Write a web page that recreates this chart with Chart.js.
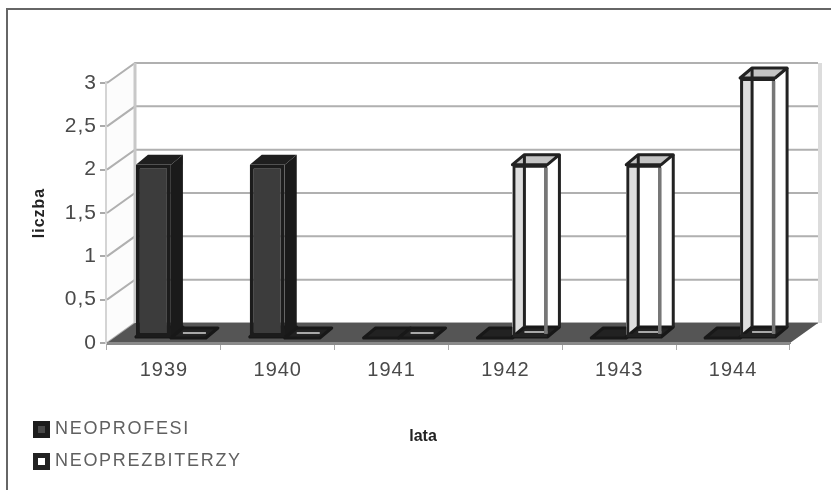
<!DOCTYPE html>
<html>
<head>
<meta charset="utf-8">
<title>Neoprofesi i neoprezbiterzy</title>
<script src="https://cdn.jsdelivr.net/npm/chart.js@4"></script>
<style>
    html, body { margin: 0; padding: 0; background: #fff; }
    #wrap { position: relative; width: 831px; height: 490px; overflow: hidden; }
    #chart { display: block; filter: blur(0.7px); }
    /* the frame runs off the right and bottom edge of the scan */
    #frame { position: absolute; left: 6px; top: 8px; width: 840px; height: 500px; border: 2px solid #666; }
</style>
</head>
<body>
<div id="wrap">
    <canvas id="chart" width="831" height="490"></canvas>
    <div id="frame"></div>
</div>
<script>
const categories = ['1939', '1940', '1941', '1942', '1943', '1944'];
const neoprofesi = [2, 2, 0, 0, 0, 0];
const neoprezbiterzy = [0, 0, 0, 2, 2, 3];
const yTickLabels = ['0', '0,5', '1', '1,5', '2', '2,5', '3'];
const yAxisTitle = 'liczba';
const xAxisTitle = 'lata';

// 3D look: how far the walls and the bars go back
const WALL_DX = 28, WALL_DY = -20;
const BAR_DX = 12, BAR_DY = -10;
const BAR_SHIFT_X = 7, BAR_SHIFT_Y = -5;

function poly(ctx, pts) {
    ctx.beginPath();
    pts.forEach((p, i) => i ? ctx.lineTo(p[0], p[1]) : ctx.moveTo(p[0], p[1]));
    ctx.closePath();
}

function drawWalls(chart) {
    const { ctx, chartArea: a, scales: { y } } = chart;
    ctx.save();
    ctx.fillStyle = '#fcfcfc';
    poly(ctx, [[a.left, a.top], [a.left + WALL_DX, a.top + WALL_DY], [a.left + WALL_DX, a.bottom + WALL_DY], [a.left, a.bottom]]);
    ctx.fill();

    // gridlines go along the side wall and then the back wall
    ctx.strokeStyle = '#b0b0b0';
    ctx.lineWidth = 2;
    y.ticks.forEach(t => {
        const py = y.getPixelForValue(t.value);
        ctx.beginPath();
        ctx.moveTo(a.left, py);
        ctx.lineTo(a.left + WALL_DX, py + WALL_DY);
        ctx.lineTo(a.right + WALL_DX, py + WALL_DY);
        ctx.stroke();
    });
    ctx.strokeStyle = '#c8c8c8';
    ctx.lineWidth = 3;
    ctx.beginPath();
    ctx.moveTo(a.left + WALL_DX, a.top + WALL_DY);
    ctx.lineTo(a.left + WALL_DX, a.bottom + WALL_DY);
    ctx.stroke();
    ctx.strokeStyle = '#dcdcdc';
    ctx.lineWidth = 4;
    ctx.beginPath();
    ctx.moveTo(a.right + WALL_DX + 2, a.top + WALL_DY);
    ctx.lineTo(a.right + WALL_DX + 2, a.bottom + WALL_DY);
    ctx.stroke();

    // floor
    ctx.fillStyle = '#555';
    poly(ctx, [[a.left, a.bottom], [a.left + WALL_DX, a.bottom + WALL_DY], [a.right + WALL_DX, a.bottom + WALL_DY], [a.right, a.bottom]]);
    ctx.fill();
    ctx.fillStyle = '#8a8a8a';
    ctx.fillRect(a.left, a.bottom - 1, a.width, 3);
    ctx.restore();
}

function drawFlat(ctx, x0, x1, yb, light) {
    const pts = [[x0, yb], [x1, yb], [x1 + BAR_DX, yb + BAR_DY], [x0 + BAR_DX, yb + BAR_DY]];
    ctx.fillStyle = '#222';
    ctx.strokeStyle = '#181818';
    ctx.lineWidth = 3;
    ctx.lineJoin = 'round';
    poly(ctx, pts);
    ctx.fill();
    ctx.stroke();
    if (light) {
        ctx.strokeStyle = '#a8a8a8';
        ctx.lineWidth = 2;
        ctx.beginPath();
        ctx.moveTo(x0 + BAR_DX, yb + BAR_DY / 2);
        ctx.lineTo(x1, yb + BAR_DY / 2);
        ctx.stroke();
    }
}

function drawBarDepth(ctx, bar, open) {
    const x0 = bar.x - bar.width / 2, x1 = bar.x + bar.width / 2;
    const yt = bar.y, yb = bar.base;
    const h = yb - yt;
    if (h < 1) {
        drawFlat(ctx, x0, x1, yb, open);
        return;
    }

    if (!open) {
        drawFlat(ctx, x0, x1, yb, false);
        ctx.fillStyle = '#1a1a1a';
        poly(ctx, [[x1, yt], [x1 + BAR_DX, yt + BAR_DY], [x1 + BAR_DX, yb + BAR_DY], [x1, yb]]);
        ctx.fill();
        ctx.fillStyle = '#1f1f1f';
        poly(ctx, [[x0, yt], [x0 + BAR_DX, yt + BAR_DY], [x1 + BAR_DX, yt + BAR_DY], [x1, yt]]);
        ctx.fill();
        return;
    }
    ctx.fillStyle = '#fff';
    ctx.fillRect(x0, yt + BAR_DY, x1 - x0 + BAR_DX, h);
    ctx.fillStyle = '#dedede';
    ctx.fillRect(x0, yt, BAR_DX, h);
    drawFlat(ctx, x0, x1, yb, true);
    ctx.fillStyle = '#c4c4c4';
    poly(ctx, [[x0, yt], [x0 + BAR_DX, yt + BAR_DY], [x1 + BAR_DX, yt + BAR_DY], [x1, yt]]);
    ctx.fill();
    ctx.strokeStyle = '#222';
    ctx.lineWidth = 3;
    ctx.lineJoin = 'round';
    ctx.stroke();
    ctx.beginPath();
    ctx.moveTo(x0 + BAR_DX, yt + BAR_DY);
    ctx.lineTo(x0 + BAR_DX, yb + BAR_DY);
    ctx.moveTo(x1 + BAR_DX, yt + BAR_DY);
    ctx.lineTo(x1 + BAR_DX, yb + BAR_DY);
    ctx.stroke();
}

const fake3d = {
    id: 'fake3d',
    beforeDraw(chart) {
        chart.ctx.letterSpacing = '1px';
    },
    beforeDatasetsDraw(chart) {
        const ctx = chart.ctx;
        drawWalls(chart);
        ctx.save();
        ctx.translate(BAR_SHIFT_X, BAR_SHIFT_Y);
        chart.data.datasets.forEach((ds, i) => {
            chart.getDatasetMeta(i).data.forEach(bar => drawBarDepth(ctx, bar, i === 1));
        });
    },
    afterDatasetsDraw(chart) {
        const ctx = chart.ctx;
        // right front edge of the open bars looks grey
        chart.getDatasetMeta(1).data.forEach(bar => {
            if (bar.base - bar.y < 1) return;
            const x1 = bar.x + bar.width / 2;
            ctx.strokeStyle = '#777';
            ctx.lineWidth = 3.5;
            ctx.beginPath();
            ctx.moveTo(x1 - 1.5, bar.y + 3);
            ctx.lineTo(x1 - 1.5, bar.base - 3);
            ctx.stroke();
        });
        ctx.restore();
    },
    afterDraw(chart) {
        const ctx = chart.ctx;
        ctx.save();
        ctx.textBaseline = 'middle';
        ctx.fillStyle = '#222';
        ctx.font = 'bold 16px "Liberation Sans"';
        ctx.letterSpacing = '0px';
        ctx.textAlign = 'center';
        ctx.fillText(xAxisTitle, 423, 437);

        // legend under the chart, stacked
        ctx.textAlign = 'left';
        chart.data.datasets.forEach((ds, i) => {
            const top = 421 + i * 32;
            ctx.fillStyle = ds.borderColor;
            ctx.fillRect(33, top, 17, 17);
            ctx.fillStyle = i === 0 ? '#484848' : '#fff';
            ctx.fillRect(38, top + 5, 7, 7);
            ctx.fillStyle = '#606060';
            ctx.font = '18px "Liberation Sans"';
            ctx.letterSpacing = '1.7px';
            ctx.fillText(ds.label, 55, top + 8);
        });
        ctx.restore();
    }
};

new Chart(document.getElementById('chart'), {
    type: 'bar',
    data: {
        labels: categories,
        datasets: [
            {
                label: 'NEOPROFESI',
                data: neoprofesi,
                backgroundColor: '#3c3c3c',
                borderColor: '#1c1c1c',
                borderWidth: 4,
                borderSkipped: false,
                clip: false
            },
            {
                label: 'NEOPREZBITERZY',
                data: neoprezbiterzy,
                backgroundColor: 'rgba(255,255,255,0)',
                borderColor: '#222',
                borderWidth: 3,
                borderSkipped: false,
                clip: false
            }
        ]
    },
    options: {
        responsive: false,
        animation: false,
        layout: { padding: { top: 83, right: 41, left: 0, bottom: 0 } },
        datasets: { bar: { barPercentage: 1, categoryPercentage: 0.615 } },
        plugins: { legend: { display: false }, tooltip: { enabled: false } },
        scales: {
            x: {
                afterFit(scale) { scale.height = 147; },
                grid: { drawOnChartArea: false, offset: true, tickLength: 7, color: '#aaa' },
                border: { color: '#8a8a8a' },
                ticks: {
                    padding: 8,
                    maxRotation: 0,
                    color: '#4a4a4a',
                    font: { family: '"Liberation Sans"', size: 20 }
                }
            },
            y: {
                min: 0,
                max: 3,
                afterFit(scale) { scale.width = 107; },
                grid: { drawOnChartArea: false, tickLength: 7, color: '#aaa', lineWidth: 2 },
                border: { color: '#d4d4d4', width: 4 },
                title: {
                    display: true,
                    text: yAxisTitle,
                    color: '#222',
                    padding: { top: 30, bottom: 0 },
                    font: { family: '"Liberation Sans"', size: 16, weight: 'bold' }
                },
                ticks: {
                    stepSize: 0.5,
                    padding: 3,
                    color: '#4a4a4a',
                    font: { family: '"Liberation Sans"', size: 21 },
                    callback: (value, index) => yTickLabels[index]
                }
            }
        }
    },
    plugins: [fake3d]
});
</script>
</body>
</html>
